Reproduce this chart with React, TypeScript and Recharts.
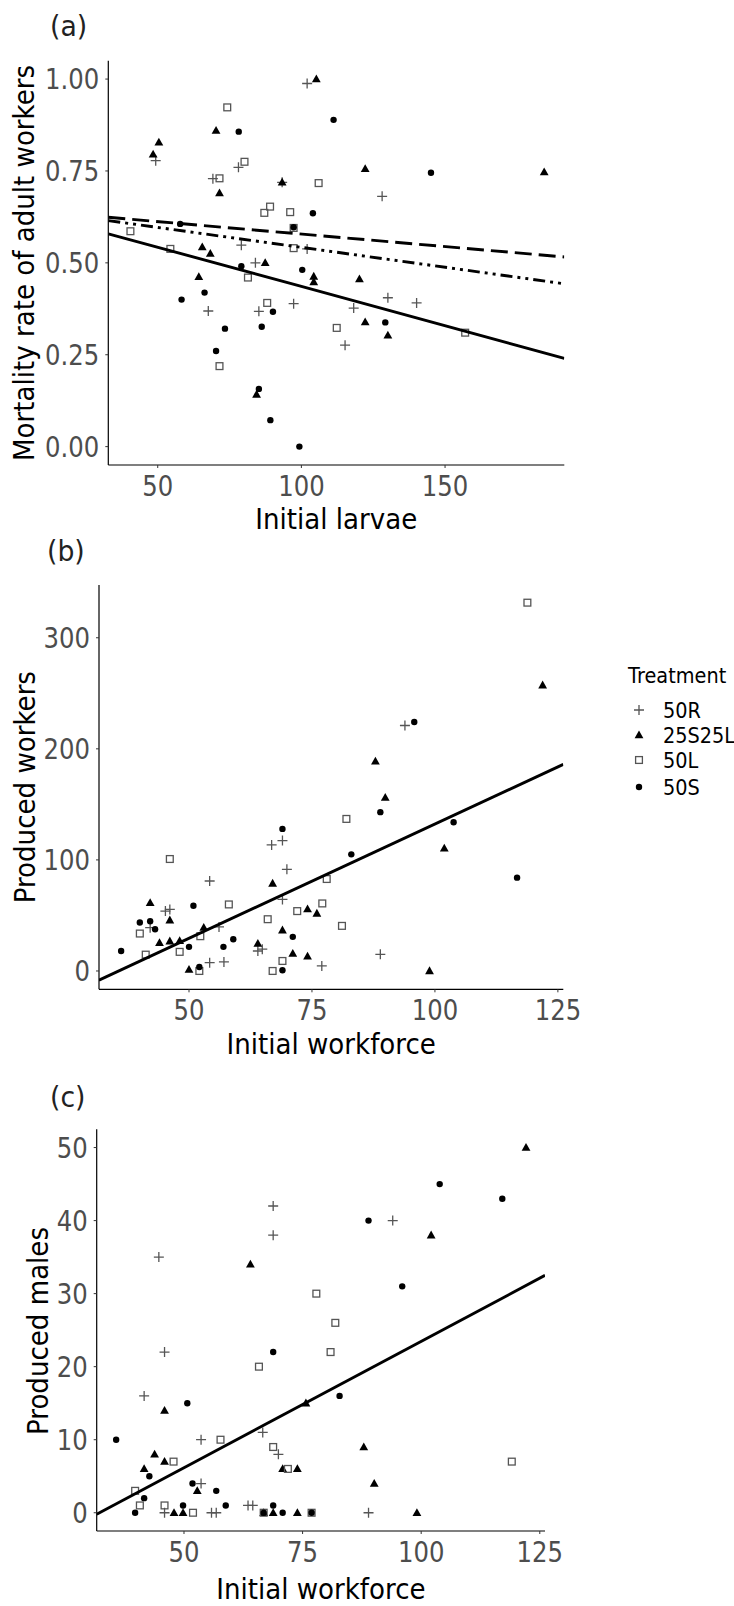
import { ScatterChart, Scatter, XAxis, YAxis } from 'recharts';

const FONT = "'DejaVu Sans', 'Verdana', sans-serif";
const TICK_SX = 0.84;
const TITLE_SX = 0.9;

const treatments = ['50R', '25S25L', '50L', '50S'];

// (a) mortality rate of adult workers vs initial larvae
const mort50R = [
  [49.3, 0.778], [69.2, 0.729], [78.1, 0.76], [79.1, 0.548], [84, 0.5], [67.6, 0.369],
  [85.2, 0.368], [93.3, 0.719], [102, 0.988], [97.3, 0.389], [102, 0.538], [118.2, 0.377],
  [115.2, 0.276], [128.1, 0.681], [130.1, 0.405], [140.1, 0.391],
];
const mort25S25L = [
  [48.4, 0.795], [50.4, 0.828], [70.3, 0.86], [71.5, 0.69], [65.5, 0.543], [68.3, 0.525],
  [64.3, 0.462], [87.4, 0.5], [84.4, 0.142], [93.3, 0.719], [105.2, 1.0], [104.3, 0.463],
  [104.3, 0.448], [120.2, 0.456], [122.2, 0.756], [122.2, 0.339], [130.1, 0.303], [184.5, 0.747],
];
const mort50L = [
  [40.5, 0.586], [54.4, 0.538], [74.2, 0.923], [71.5, 0.73], [80.2, 0.775], [81.4, 0.46],
  [71.5, 0.219], [87.1, 0.636], [89.1, 0.653], [88.1, 0.391], [96.1, 0.638], [97.3, 0.595],
  [97.3, 0.54], [106, 0.717], [112.3, 0.323], [157, 0.31],
];
const mort50S = [
  [58.3, 0.4], [57.8, 0.606], [66.3, 0.419], [70.3, 0.26], [73.4, 0.321], [78.2, 0.857],
  [79.1, 0.491], [86.2, 0.326], [85.2, 0.157], [89.2, 0.072], [90.1, 0.367], [97.3, 0.597],
  [100.3, 0.481], [99.3, 0.0], [104, 0.635], [111.2, 0.889], [129.2, 0.338], [145.1, 0.745],
];
const mortFitSolid = [[32.8, 0.579], [100, 0.436], [191.5, 0.24]];
const mortFitDash = [[32.8, 0.624], [191.5, 0.516]];
const mortFitTwoDash = [[32.8, 0.615], [191.5, 0.443]];

// (b) produced workers vs initial workforce
const work50R = [
  [45.2, 53.9], [46.1, 55.4], [54.2, 81], [42.1, 39], [56.1, 39.7], [54.2, 7.5], [57.1, 8.1],
  [64, 18], [64.9, 19.6], [66.8, 113.5], [69, 117.4], [69.9, 91.5], [69, 64.4], [77, 4.5],
  [88.9, 15], [93.9, 221],
];
const work25S25L = [
  [42.1, 61.4], [46.1, 45.7], [44, 25.3], [46.1, 26.8], [48.1, 27.1], [53, 39.1], [50, 1.2],
  [64, 24.7], [67, 78.8], [69, 36.7], [71.1, 15.6], [74.1, 55.7], [74.1, 13.2], [76, 51.8],
  [87.9, 188.7], [89.9, 156.2], [98.9, 0], [101.9, 110.4], [121.9, 257.3],
];
const work50L = [
  [40, 33.7], [41.2, 14.7], [46.1, 100.8], [48.1, 17.2], [52.3, 31.3], [52.1, 0], [58.1, 59.9],
  [66, 46.6], [67, 0], [69, 9], [72, 53.9], [77.1, 60.8], [78, 82.8], [81.1, 40.6], [82, 136.9],
  [118.8, 331.6],
];
const work50S = [
  [36.2, 18], [40, 43.6], [42.1, 44.8], [43.1, 37.6], [50, 21.7], [50.9, 58.7], [52.1, 3.6],
  [57, 21.7], [59, 28.6], [69, 127.9], [69, 0.6], [71.1, 30.7], [83, 105], [88.9, 143],
  [95.8, 224.2], [103.8, 133.9], [116.7, 84],
];
const workFit = [[31.7, -8.3], [126.1, 186]];

// (c) produced males vs initial workforce
const males50R = [
  [44.7, 35], [45.9, 22], [41.6, 16], [53.6, 10], [53.6, 4], [45.9, 0], [55.8, 0], [56.8, 0],
  [63.5, 1], [64.5, 1], [66.6, 11], [68.8, 42], [68.8, 38], [69.9, 8], [88.9, 0], [94, 40],
];
const males25S25L = [
  [41.6, 6], [43.8, 8], [45.9, 14], [45.9, 7], [47.9, 0], [49.8, 0], [52.8, 3], [64, 34],
  [66.8, 0], [68.8, 0], [70.8, 6], [73.9, 6], [73.9, 0], [75.7, 15], [87.9, 9], [90.1, 4],
  [99.1, 0], [102.1, 38], [122.1, 50],
];
const males50L = [
  [39.7, 3], [40.7, 1], [45.9, 1], [47.8, 7], [51.9, 0], [57.7, 10], [65.8, 20], [66.8, 0],
  [68.8, 9], [71.9, 6], [76.9, 0], [77.9, 30], [80.9, 22], [81.9, 26], [119.1, 7],
];
const males50S = [
  [35.7, 10], [39.7, 0], [41.6, 2], [42.7, 5], [49.8, 1], [50.7, 15], [51.8, 4], [56.8, 3],
  [58.8, 1], [66.8, 0], [68.8, 22], [68.8, 1], [70.8, 0], [76.9, 0], [82.8, 16], [88.9, 40],
  [96, 31], [103.9, 45], [117.1, 43],
];
const malesFit = [[31.6, -0.2], [126.1, 32.5]];

const pts = (a: number[][]) => a.map(([x, y]) => ({ x, y }));

const Plus = (p: any) => (
  <path d={`M${p.cx - 5},${p.cy}h10M${p.cx},${p.cy - 5}v10`} stroke="#555" strokeWidth={1.3} fill="none" />
);
const Tri = (p: any) => (
  <path d={`M${p.cx},${p.cy - 4.6}L${p.cx + 4.4},${p.cy + 3.2}L${p.cx - 4.4},${p.cy + 3.2}Z`} fill="#000" />
);
const Sq = (p: any) => (
  <rect x={p.cx - 3.4} y={p.cy - 3.4} width={6.8} height={6.8} fill="none" stroke="#555" strokeWidth={1.3} />
);
const Dot = (p: any) => <circle cx={p.cx} cy={p.cy} r={3.2} fill="#000" />;
const NoDot = () => <g />;
const shapes = [Plus, Tri, Sq, Dot];

// ticks drawn with a horizontal squeeze, the source font is narrow
const makeXTick = () => (props: any) => (
  <g transform={`translate(${props.x},${props.y}) scale(${TICK_SX},1)`}>
    <text textAnchor="middle" dy="0.71em" fill="#4d4d4d" fontSize={29} fontFamily={FONT}>
      {props.payload.value}
    </text>
  </g>
);
const makeYTick = (fmt: (v: number) => string) => (props: any) => (
  <g transform={`translate(${props.x},${props.y}) scale(${TICK_SX},1)`}>
    <text textAnchor="end" dy="0.355em" fill="#4d4d4d" fontSize={29} fontFamily={FONT}>
      {fmt(props.payload.value)}
    </text>
  </g>
);

type PanelProps = {
  top: number;
  height: number;
  mTop: number;
  yW: number;
  mRight: number;
  xDomain: number[];
  xTicks: number[];
  yDomain: number[];
  yTicks: number[];
  yFmt: (v: number) => string;
  series: number[][][];
  fits: { data: number[][]; dash?: string }[];
};

function Panel(p: PanelProps) {
  return (
    <div style={{ position: 'absolute', left: 0, top: p.top }}>
      <ScatterChart width={734} height={p.height} margin={{ top: p.mTop, right: p.mRight, bottom: 5, left: 0 }}>
        <XAxis
          type="number"
          dataKey="x"
          domain={p.xDomain}
          ticks={p.xTicks}
          interval={0}
          allowDataOverflow
          height={70}
          tickSize={3}
          tickMargin={7}
          axisLine={{ stroke: '#000', strokeWidth: 1.2 }}
          tickLine={{ stroke: '#333' }}
          tick={makeXTick()}
        />
        <YAxis
          type="number"
          dataKey="y"
          domain={p.yDomain}
          ticks={p.yTicks}
          interval={0}
          allowDataOverflow
          width={p.yW}
          tickSize={3}
          tickMargin={6}
          axisLine={{ stroke: '#000', strokeWidth: 1.2 }}
          tickLine={{ stroke: '#333' }}
          tick={makeYTick(p.yFmt)}
        />
        {p.series.map((s, i) => (
          <Scatter key={treatments[i]} name={treatments[i]} data={pts(s)} shape={shapes[i]} isAnimationActive={false} />
        ))}
        {p.fits.map((f, i) => (
          <Scatter
            key={'fit' + i}
            data={pts(f.data)}
            shape={NoDot}
            line={{ stroke: '#000', strokeWidth: 2.9, strokeDasharray: f.dash, fill: 'none' }}
            lineType="joint"
            isAnimationActive={false}
          />
        ))}
      </ScatterChart>
    </div>
  );
}

const xTitles = [
  { text: 'Initial larvae', x: 336.3, y: 529 },
  { text: 'Initial workforce', x: 331.2, y: 1054 },
  { text: 'Initial workforce', x: 320.9, y: 1599 },
];
const yTitles = [
  { text: 'Mortality rate of adult workers', x: 34, y: 262.9 },
  { text: 'Produced workers', x: 35, y: 787.2 },
  { text: 'Produced males', x: 48, y: 1331 },
];
const tags = [
  { text: '(a)', x: 50, y: 36.2 },
  { text: '(b)', x: 47, y: 561.2 },
  { text: '(c)', x: 50, y: 1107.2 },
];

function Overlay() {
  const legendRows = [710, 735, 760, 787];
  return (
    <svg width={734} height={1606} style={{ position: 'absolute', left: 0, top: 0, pointerEvents: 'none' }}>
      {xTitles.map((t, i) => (
        <g key={'x' + i} transform={`translate(${t.x},${t.y}) scale(${TITLE_SX},1)`}>
          <text textAnchor="middle" fontSize={29} fontFamily={FONT} fill="#000">{t.text}</text>
        </g>
      ))}
      {yTitles.map((t, i) => (
        <g key={'y' + i} transform={`translate(${t.x},${t.y}) rotate(-90) scale(${TITLE_SX},1)`}>
          <text textAnchor="middle" fontSize={29} fontFamily={FONT} fill="#000">{t.text}</text>
        </g>
      ))}
      {tags.map((t, i) => (
        <g key={'t' + i} transform={`translate(${t.x},${t.y}) scale(0.92,1)`}>
          <text fontSize={29} fontFamily={FONT} fill="#222">{t.text}</text>
        </g>
      ))}
      <g transform={`translate(628,683) scale(0.92,1)`}>
        <text fontSize={21} fontFamily={FONT} fill="#000">Treatment</text>
      </g>
      {treatments.map((t, i) => {
        const S = shapes[i];
        return (
          <g key={t}>
            <S cx={639} cy={legendRows[i]} />
            <g transform={`translate(663,${legendRows[i] + 8}) scale(0.92,1)`}>
              <text fontSize={21} fontFamily={FONT} fill="#000">{t}</text>
            </g>
          </g>
        );
      })}
    </svg>
  );
}

export default function App() {
  return (
    <div style={{ position: 'absolute', left: 0, top: 0, width: 734, height: 1606, background: '#fff' }}>
      <Panel
        top={0}
        height={540}
        mTop={60.7}
        yW={108.3}
        mRight={169.7}
        xDomain={[32.8, 191.5]}
        xTicks={[50, 100, 150]}
        yDomain={[-0.05, 1.05]}
        yTicks={[0, 0.25, 0.5, 0.75, 1]}
        yFmt={(v) => v.toFixed(2)}
        series={[mort50R, mort25S25L, mort50L, mort50S]}
        fits={[
          { data: mortFitSolid },
          { data: mortFitDash, dash: '17 7' },
          { data: mortFitTwoDash, dash: '12 5 3 5 3 5' },
        ]}
      />
      <Panel
        top={540}
        height={524.3}
        mTop={45}
        yW={99}
        mRight={170.7}
        xDomain={[31.7, 126.1]}
        xTicks={[50, 75, 100, 125]}
        yDomain={[-16.5, 347.5]}
        yTicks={[0, 100, 200, 300]}
        yFmt={(v) => String(v)}
        series={[work50R, work25S25L, work50L, work50S]}
        fits={[{ data: workFit }]}
      />
      <Panel
        top={1080}
        height={526}
        mTop={49.3}
        yW={96.7}
        mRight={189}
        xDomain={[31.6, 126.1]}
        xTicks={[50, 75, 100, 125]}
        yDomain={[-2.5, 52.5]}
        yTicks={[0, 10, 20, 30, 40, 50]}
        yFmt={(v) => String(v)}
        series={[males50R, males25S25L, males50L, males50S]}
        fits={[{ data: malesFit }]}
      />
      <Overlay />
    </div>
  );
}
